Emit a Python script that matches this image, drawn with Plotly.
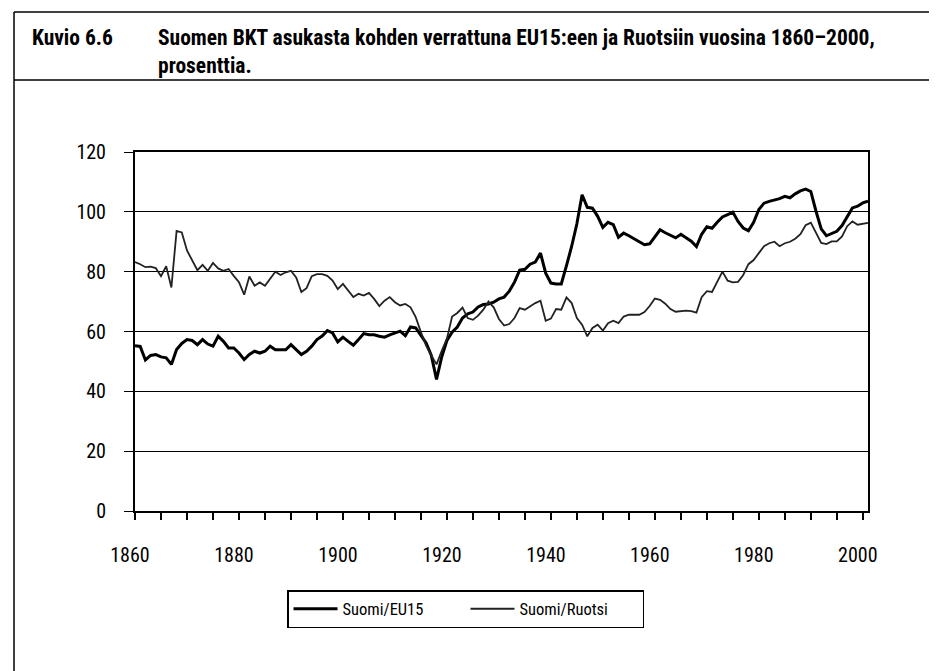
import plotly.graph_objects as go

# ---------------- data ----------------
years = list(range(1860, 2002))

suomi_eu15 = [
    55.2, 55.0, 50.5, 52.0, 52.3, 51.5, 51.2, 49.0, 54.0, 56.0,
    57.3, 57.0, 55.6, 57.3, 55.8, 55.1, 58.4, 56.7, 54.5, 54.5,
    52.8, 50.6, 52.3, 53.4, 52.8, 53.4, 55.1, 53.9, 53.9, 53.9,
    55.6, 53.9, 52.3, 53.4, 55.1, 57.3, 58.5, 60.3, 59.5, 56.5,
    58.1, 56.7, 55.4, 57.3, 59.3, 58.9, 58.9, 58.4, 58.1, 58.9,
    59.5, 60.1, 58.6, 61.5, 61.2, 58.9, 56.2, 52.0, 44.0, 51.5,
    57.0, 59.8, 61.5, 64.5, 65.9, 66.5, 68.2, 69.0, 69.2, 69.8,
    70.9, 71.5, 73.5, 76.5, 80.5, 80.8, 82.5, 83.2, 86.2, 79.5,
    76.2, 75.9, 75.9, 82.0, 88.5, 96.0, 105.7, 101.5, 101.2, 98.5,
    94.8, 96.5, 95.7, 91.5, 92.9, 92.0, 91.0, 90.2, 89.0, 89.3,
    91.5, 94.0, 93.0, 92.2, 91.3, 92.5, 91.3, 90.2, 88.4, 92.5,
    95.0, 94.5, 96.5, 98.3, 99.1, 99.9, 96.8, 94.6, 93.7, 96.5,
    100.8, 102.9, 103.5, 104.0, 104.4, 105.2, 104.7, 106.0, 107.0, 107.6,
    106.8, 100.2, 94.3, 92.0, 92.7, 93.5, 95.4, 98.3, 101.3, 101.9,
    103.0, 103.6,
]

suomi_ruotsi = [
    83.2, 82.5, 81.5, 81.7, 81.2, 78.5, 81.8, 74.7, 93.6, 93.1,
    87.1, 83.7, 80.5, 82.3, 80.3, 82.9, 81.1, 80.3, 80.9, 78.6,
    76.5, 72.3, 78.4, 75.3, 76.4, 75.3, 77.5, 80.0, 78.9, 79.8,
    80.3, 78.1, 73.2, 74.5, 78.5, 79.2, 79.2, 78.6, 77.0, 74.2,
    75.9, 73.7, 71.5, 72.6, 72.0, 72.9, 70.9, 68.5, 70.3, 71.5,
    69.8, 68.7, 69.2, 68.1, 64.8, 59.8, 55.3, 52.0, 49.0, 53.5,
    57.6, 65.0, 66.2, 68.0, 64.5, 63.9, 65.3, 67.3, 70.0, 68.1,
    64.2, 62.0, 62.5, 64.5, 67.8, 67.3, 68.4, 69.5, 70.3, 63.6,
    64.3, 67.5, 67.3, 71.4, 69.5, 64.5, 62.3, 58.4, 61.2, 62.3,
    60.3, 62.8, 63.6, 62.8, 65.0, 65.6, 65.6, 65.6, 66.5, 68.5,
    71.0, 70.6, 69.3, 67.5, 66.6, 66.8, 67.0, 66.8, 66.3, 71.5,
    73.5, 73.2, 76.5, 80.0, 77.0, 76.4, 76.6, 78.9, 82.5, 83.9,
    86.2, 88.5, 89.5, 90.0, 88.5, 89.5, 90.0, 91.0, 92.5, 95.5,
    96.4, 92.8, 89.6, 89.2, 90.1, 90.1, 91.8, 95.2, 96.8, 95.7,
    96.1, 96.3,
]

series_names = ["Suomi/EU15", "Suomi/Ruotsi"]
y_ticks = [0, 20, 40, 60, 80, 100, 120]
x_ticks = [1860, 1880, 1900, 1920, 1940, 1960, 1980, 2000]

title_label = "Kuvio 6.6"
title_text = "Suomen BKT asukasta kohden verrattuna EU15:een ja Ruotsiin vuosina 1860–2000,<br>prosenttia."

# ---------------- layout geometry ----------------
W, H = 937, 671
ML, MR, MT, MB = 127, 77, 144, 168
PW, PH = W - ML - MR, H - MT - MB


def px(x):
    return (x - ML) / PW


def py(y):
    return (H - MB - y) / PH


FONT = "Noto Sans Condensed, Roboto Condensed, Roboto, sans-serif"

fig = go.Figure()
fig.add_trace(go.Scatter(
    x=years, y=suomi_eu15, mode="lines", name=series_names[0],
    line=dict(color="#000000", width=3),
))
fig.add_trace(go.Scatter(
    x=years, y=suomi_ruotsi, mode="lines", name=series_names[1],
    line=dict(color="#222222", width=1.8),
))

frame = dict(color="#000000", width=1.5)
shapes = [
    dict(type="line", xref="paper", yref="paper", x0=px(6), x1=px(932), y0=py(4), y1=py(4), line=frame),
    dict(type="line", xref="paper", yref="paper", x0=px(6), x1=px(932), y0=py(72), y1=py(72), line=frame),
    dict(type="line", xref="paper", yref="paper", x0=px(6), x1=px(6), y0=py(4), y1=py(671), line=frame),
    dict(type="line", xref="paper", yref="paper", x0=px(932), x1=px(932), y0=py(4), y1=py(671), line=frame),
]

annotations = [
    dict(text=title_label, xref="paper", yref="paper", x=px(22), y=py(15),
         xanchor="left", yanchor="top", showarrow=False, align="left",
         font=dict(family=FONT, size=21.5, color="#000", weight="bold")),
    dict(text=title_text, xref="paper", yref="paper", x=px(148), y=py(15),
         xanchor="left", yanchor="top", showarrow=False, align="left",
         font=dict(family=FONT, size=21.5, color="#000", weight="bold")),
]

fig.update_layout(
    width=W, height=H,
    margin=dict(l=ML, r=MR, t=MT, b=MB, pad=0),
    paper_bgcolor="white", plot_bgcolor="white",
    font=dict(family=FONT, size=19, color="#000"),
    showlegend=True,
    legend=dict(
        orientation="h", x=px(279), y=py(582), xanchor="left", yanchor="top",
        bordercolor="#000", borderwidth=1.5, bgcolor="white",
        font=dict(family=FONT, size=16.5, color="#000"),
        itemwidth=44, entrywidth=118, entrywidthmode="pixels",
    ),
    shapes=shapes,
    annotations=annotations,
)

fig.update_xaxes(
    range=[1860, 2001], tickvals=x_ticks, ticktext=[str(v) for v in x_ticks],
    ticks="outside", ticklen=7, tickwidth=1.5, tickcolor="#000",
    minor=dict(dtick=5, tick0=1860, ticks="outside", ticklen=7, tickwidth=1.5, tickcolor="#000"),
    showline=True, linecolor="#000", linewidth=2, mirror=True,
    showgrid=False, zeroline=False,
    ticklabelstandoff=18, ticklabelshift=-5,
    tickfont=dict(family=FONT, size=20, color="#000"),
)
fig.update_yaxes(
    range=[0, 120], tickvals=y_ticks,
    ticks="outside", ticklen=9, tickwidth=1.3, tickcolor="#000",
    showline=True, linecolor="#000", linewidth=2, mirror=True,
    showgrid=True, gridcolor="#000", gridwidth=1.3, zeroline=False,
    ticklabelstandoff=14,
    tickfont=dict(family=FONT, size=20, color="#000"),
)

fig.write_html("out.html")
